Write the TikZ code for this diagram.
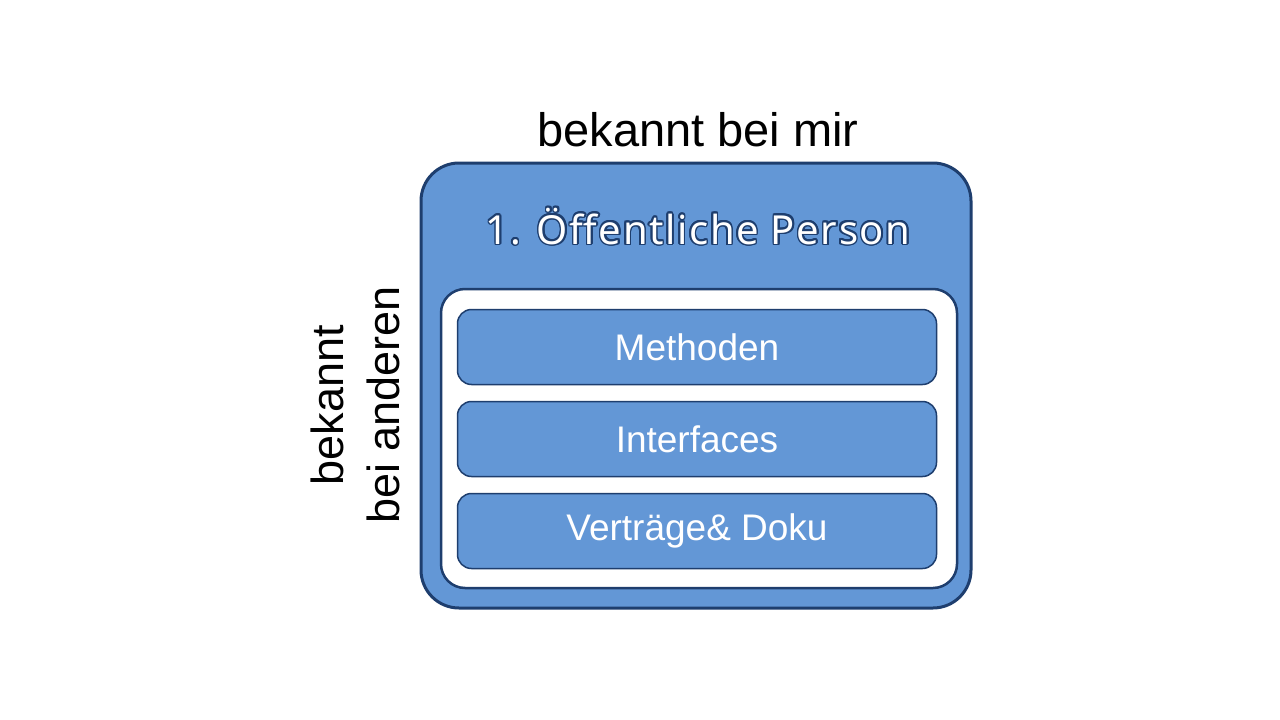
\documentclass[tikz,border=0pt]{standalone}
\usepackage{fontspec}
\setmainfont{Liberation Sans}
\newfontfamily\titlefont[LetterSpace=4]{Noto Sans}
\usepackage[copies]{contour}
\contourlength{1.6pt}
\definecolor{boxblue}{RGB}{99,151,214}
\definecolor{edgeblue}{RGB}{30,62,110}
\begin{document}
\begin{tikzpicture}[x=1pt,y=-1pt]
\tikzstyle{outer}=[draw=edgeblue, fill=boxblue, line width=3pt, rounded corners=38pt]
\tikzstyle{inner}=[draw=edgeblue, fill=white, line width=2.5pt, rounded corners=24pt]
\tikzstyle{bar}=[draw=edgeblue, fill=boxblue, line width=1.5pt, rounded corners=14pt,
                 minimum width=479pt, minimum height=75pt, inner sep=0pt,
                 text=white, font=\fontsize{37}{44}\selectfont]
\useasboundingbox (0,0) rectangle (1280,720);
\draw[outer] (421,163) rectangle (971,608);
\draw[inner] (441,289) rectangle (957,588);
\node[font=\fontsize{47}{54}\selectfont] (top) at (698,130) {bekannt bei mir};
\node[font=\fontsize{45}{56}\selectfont, rotate=90, align=center] (left) at (355,405) {bekannt\\bei anderen};
\node[font=\titlefont\fontsize{40}{48}\selectfont, text=white] (title) at (698,227) {\contour{edgeblue}{1. Öffentliche Person}};
\node[bar] (meth) at (697,347) {Methoden};
\node[bar] (intf) at (697,439) {Interfaces};
\node[bar] (doku) at (697,531) {Verträge\& Doku};
\end{tikzpicture}
\end{document}
